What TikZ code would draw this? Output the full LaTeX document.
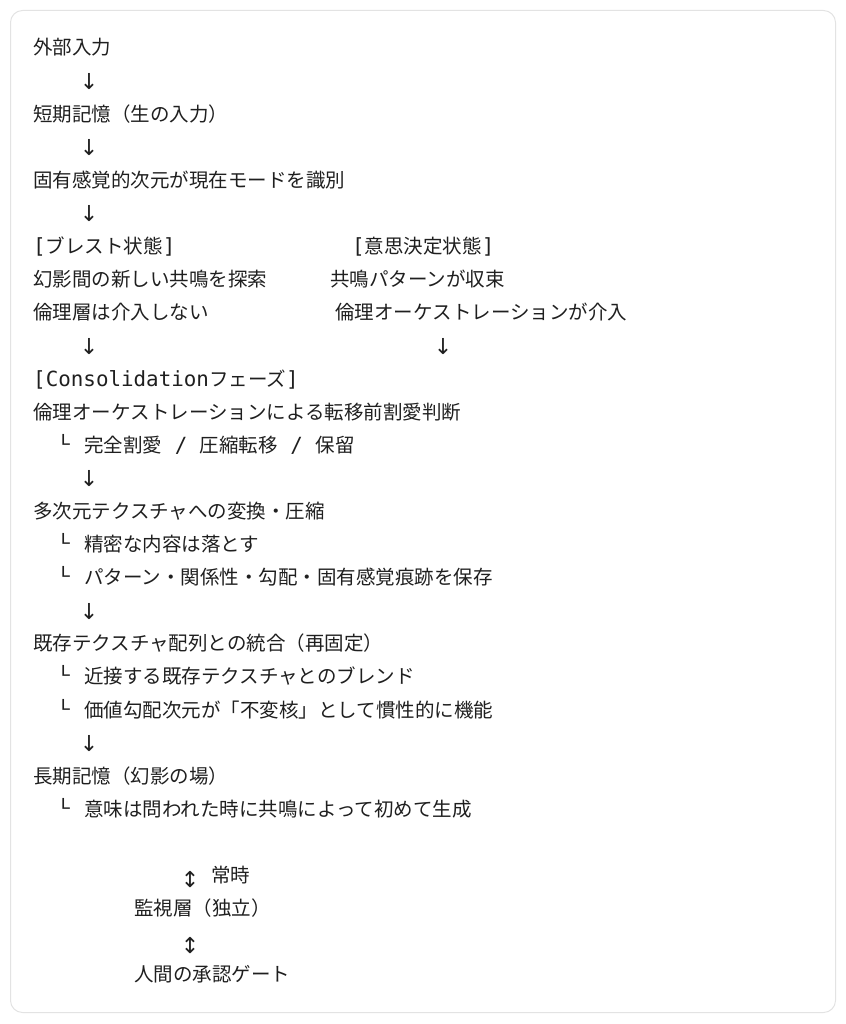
\documentclass[tikz,border=0pt]{standalone}
\usepackage{fontspec}
\usepackage{graphicx}
\setmainfont{Noto Sans CJK JP}
\newfontfamily\monofont{DejaVu Sans Mono}[Scale=1.07]
\newfontfamily\symfont{DejaVu Sans}
\definecolor{ink}{HTML}{1F1F1F}
\definecolor{framegray}{HTML}{E3E3E3}

\begin{document}
\begin{tikzpicture}[x=1pt, y=-1pt]

\tikzstyle{every node} = [anchor=base west, inner sep=0pt, text=ink, font=\fontsize{19.5}{23}\selectfont]
\tikzstyle{arr} = [anchor=base, font=\symfont\fontsize{22}{26}\selectfont]
\tikzstyle{branch} = [font=\monofont\bfseries\fontsize{20}{24}\selectfont]

\useasboundingbox (0,0) rectangle (845,1024);
\draw[framegray, line width=1pt, rounded corners=12pt] (10.5,10.5) rectangle (835.5,1012.5);

% input side
\node (in) at (33,55) {外部入力};
\node[arr] (a1) at (89,89.5) {↓};
\node (stm) at (33,121.2) {短期記憶（生の入力）};
\node[arr] (a2) at (89,155.7) {↓};
\node (mode) at (33,187.4) {固有感覚的次元が現在モードを識別};
\node[arr] (a3) at (89,221.9) {↓};

% two states
\node (bs) at (33,253.6) {{\monofont[}ブレスト状態{\monofont]}};
\node (bs1) at (33,286.7) {幻影間の新しい共鳴を探索};
\node (bs2) at (33,319.8) {倫理層は介入しない};
\node[arr] (a4) at (89,354.3) {↓};

\node (ds) at (352,253.6) {{\monofont[}意思決定状態{\monofont]}};
\node (ds1) at (330,286.7) {共鳴パターンが収束};
\node (ds2) at (335,319.8) {倫理オーケストレーションが介入};
\node[arr] (a5) at (443,354.3) {↓};

% consolidation
\node (cons) at (33,386) {{\monofont[Consolidation}フェーズ{\monofont]}};
\node (cut) at (33,419.1) {倫理オーケストレーションによる転移前割愛判断};
\node[branch] (l1) at (56.6,450.2) {\scalebox{1}[0.8]{└}};
\node (cut1) at (84,452.2) {完全割愛{\monofont{} / }圧縮転移{\monofont{} / }保留};
\node[arr] (a6) at (89,486.7) {↓};

\node (tex) at (33,518.4) {多次元テクスチャへの変換・圧縮};
\node[branch] (l2) at (56.6,549.5) {\scalebox{1}[0.8]{└}};
\node (tex1) at (84,551.5) {精密な内容は落とす};
\node[branch] (l3) at (56.6,582.6) {\scalebox{1}[0.8]{└}};
\node (tex2) at (84,584.6) {パターン・関係性・勾配・固有感覚痕跡を保存};
\node[arr] (a7) at (89,619.1) {↓};

\node (mrg) at (33,650.8) {既存テクスチャ配列との統合（再固定）};
\node[branch] (l4) at (56.6,681.9) {\scalebox{1}[0.8]{└}};
\node (mrg1) at (84,683.9) {近接する既存テクスチャとのブレンド};
\node[branch] (l5) at (56.6,715) {\scalebox{1}[0.8]{└}};
\node (mrg2) at (84,717) {価値勾配次元が「不変核」として慣性的に機能};
\node[arr] (a8) at (89,751.5) {↓};

\node (ltm) at (33,783.2) {長期記憶（幻影の場）};
\node[branch] (l6) at (56.6,814.3) {\scalebox{1}[0.8]{└}};
\node (ltm1) at (84,816.3) {意味は問われた時に共鳴によって初めて生成};

% watch layer
\node[arr] (b1) at (190,887.2) {↕};
\node (alw) at (211,882.5) {常時};
\node (mon) at (134,915.6) {監視層（独立）};
\node[arr] (b2) at (190,953) {↕};
\node (gate) at (134,981.8) {人間の承認ゲート};

\end{tikzpicture}
\end{document}
